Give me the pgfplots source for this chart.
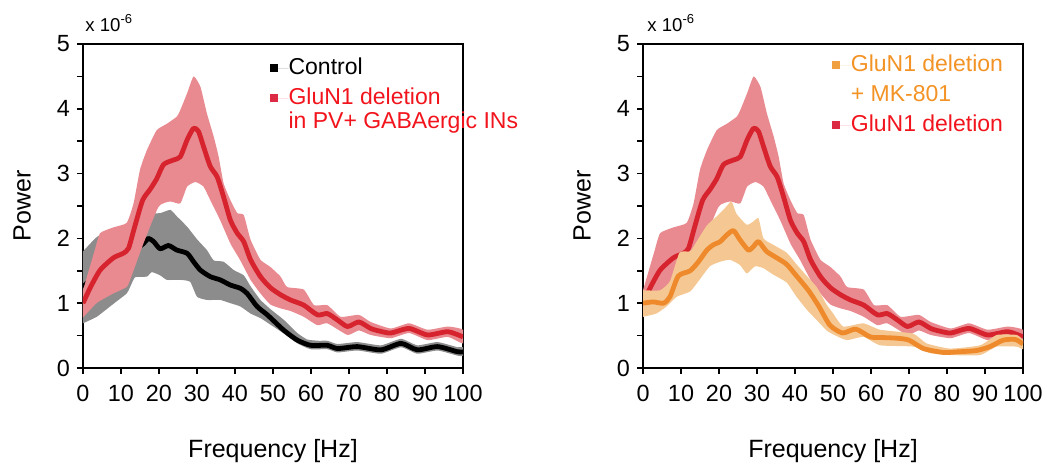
\documentclass[border=0pt]{standalone}
\usepackage{pgfplots}
\pgfplotsset{compat=1.18}
\usepackage{pgfplotstable}
\usepackage{fontspec}
\setmainfont{Liberation Sans}

\definecolor{gnred}{HTML}{D6232E}
\definecolor{gnband}{HTML}{E88A90}
\definecolor{ctlband}{HTML}{8C8C8C}
\definecolor{mkline}{HTML}{EE8A2C}
\definecolor{mkband}{HTML}{F5C893}
\definecolor{legred}{HTML}{F2141C}
\definecolor{legorange}{HTML}{F39325}
\definecolor{sqred}{HTML}{DC2A45}
\definecolor{sqorange}{HTML}{F0A040}

% GluN1 deletion, mean (same curve in both panels)
\pgfplotstableread{
f v
0 1.00
2 1.25
4.5 1.51
8 1.70
10.6 1.77
12 1.85
13.7 2.20
15.7 2.59
17.7 2.76
19.4 2.92
21.2 3.14
23.8 3.21
25.6 3.26
27.4 3.52
29.1 3.70
30.4 3.65
31.7 3.42
33.5 3.11
35.3 2.95
37 2.64
38.8 2.28
40.6 2.08
42.3 1.95
44.1 1.67
46.7 1.41
49.3 1.24
52 1.13
54.6 1.05
58.1 0.97
61.7 0.82
64.3 0.84
67 0.74
69.6 0.64
72.6 0.71
75.7 0.61
78 0.57
81 0.54
85.8 0.61
90.7 0.51
96 0.56
100 0.48
}\redmid
% GluN1 deletion, band outline: upper edge 0->100, lower edge 100->0
\pgfplotstableread{
f v
0 1.20
1.5 1.50
3 1.80
4.5 2.08
8 2.17
11.5 2.24
13.3 2.54
15 3.06
16.8 3.36
19.4 3.67
22.1 3.77
24.7 3.88
25.6 3.98
27.4 4.24
29.1 4.50
30.9 4.34
32.6 3.93
34.4 3.57
35.7 3.26
37 2.85
38.8 2.59
40.6 2.39
42.3 2.36
44.1 1.98
46.7 1.67
49.3 1.56
52 1.41
53.7 1.25
58.1 1.21
60.8 0.97
64.3 0.97
67.8 0.79
72.6 0.82
75.7 0.71
81 0.61
85.8 0.69
90.7 0.59
96 0.64
100 0.59
100 0.38
96 0.48
90.7 0.43
85.8 0.54
81 0.46
75.7 0.51
72.6 0.58
69.6 0.51
64.3 0.69
61.7 0.66
58.1 0.79
54.6 0.88
52 0.92
49.3 0.98
46.7 1.15
44.1 1.36
41.4 1.66
38.8 1.92
36.1 2.28
33.5 2.59
31.7 2.80
29.6 2.87
27.4 2.80
25.6 2.54
22.9 2.57
19.9 2.49
15.9 1.92
12.4 1.36
11.5 1.25
8 1.15
4 1.02
2.7 0.95
0 0.78
}\redband

% Control, mean
\pgfplotstableread{
f v
0 1.25
3 1.42
6 1.55
9 1.65
12 1.75
15.9 1.92
17.2 2.00
18.6 1.95
20.3 1.84
22.5 1.89
24.7 1.82
27.4 1.77
29.1 1.64
30.9 1.51
33.5 1.41
36.1 1.36
38.8 1.28
41.4 1.23
43.2 1.15
45.8 0.95
48.5 0.82
52.9 0.58
56.4 0.43
59.9 0.35
64.3 0.35
67 0.30
72.2 0.33
78.4 0.28
83.7 0.38
88 0.28
93.3 0.33
98.6 0.25
100 0.25
}\ctlmid
% Control, band outline
\pgfplotstableread{
f v
0 1.80
3.2 2.00
4.5 2.05
8 2.10
12 2.15
15 2.30
17 2.38
20.3 2.39
23 2.44
24.7 2.34
27.4 2.18
30.1 1.98
32.6 1.82
34.4 1.66
37 1.64
39.7 1.51
42.3 1.43
44.1 1.26
46.7 1.05
49.3 0.91
52.9 0.74
56.4 0.54
59 0.44
62 0.42
64.3 0.42
67 0.37
72.2 0.40
78.4 0.35
83.7 0.45
88 0.35
93.3 0.40
98.6 0.32
100 0.32
100 0.19
98.6 0.19
93.3 0.27
88 0.22
83.7 0.32
78.4 0.22
72.2 0.27
67 0.24
64.3 0.29
59.9 0.29
56.4 0.38
52.9 0.53
49.3 0.67
46.7 0.77
44.1 0.84
41.4 0.95
38.8 1.00
36.1 1.05
32.6 1.05
30 1.10
28.2 1.33
25.6 1.36
22.1 1.36
20.3 1.43
18.1 1.48
16.8 1.41
13.7 1.40
12.4 1.25
11.5 1.15
8 0.99
3.6 0.79
0 0.69
}\ctlband

% GluN1 deletion + MK-801, mean
\pgfplotstableread{
f v
0 1.00
2.7 1.02
5.4 1.00
7.1 1.10
9.3 1.42
12.4 1.50
14.6 1.64
16.8 1.82
18.5 1.90
20.3 1.95
22 2.05
23.8 2.12
25.5 1.98
27.7 1.82
29 1.87
30.4 1.95
32.5 1.80
35.2 1.70
37.8 1.60
40.4 1.42
43.5 1.20
46.3 0.95
49.2 0.66
52.5 0.54
56 0.60
59.8 0.48
63 0.47
66.8 0.46
70 0.43
73.8 0.30
79 0.24
83 0.25
87.8 0.27
91.3 0.33
94.8 0.43
98 0.44
100 0.37
}\mkmid
% GluN1 deletion + MK-801, band outline
\pgfplotstableread{
f v
0 1.20
4.5 1.20
7.1 1.34
9.6 1.78
12.4 1.80
14.1 1.95
16.8 2.20
19.4 2.34
21.6 2.47
23.3 2.57
24.6 2.38
27.3 2.21
29 2.26
30.4 2.31
31.7 2.00
34.3 1.90
37.8 1.78
40.4 1.60
43.1 1.42
45.7 1.25
48.3 0.98
49.8 0.86
52.7 0.64
58 0.69
62.4 0.59
71.1 0.53
74.6 0.38
80.8 0.30
88.7 0.35
93.1 0.51
98.3 0.51
100 0.43
100 0.29
98.3 0.33
93.1 0.33
88.7 0.20
80.8 0.20
75.5 0.23
71.1 0.33
62.4 0.35
58 0.48
53.6 0.43
50 0.52
48.3 0.58
45.7 0.74
43.1 0.90
40.4 1.10
37.8 1.32
34.3 1.44
31.7 1.54
29.5 1.57
27.3 1.46
25.5 1.59
22.9 1.67
20.3 1.64
17.6 1.57
14.6 1.34
12.4 1.18
8.9 1.10
6.2 0.95
3.5 0.84
0 0.79
}\mkband

\pgfplotsset{
  psd/.style={
    scale only axis, width=190pt, height=162pt,
    xmin=0, xmax=100, ymin=0, ymax=5,
    xtick={0,10,...,100}, ytick={0,1,2,3,4,5},
    minor ytick={0.5,1.5,2.5,3.5,4.5},
    tick align=outside, tick pos=left,
    major tick length=3pt, minor tick length=3pt,
    tick style={black, line width=0.8pt},
    axis line style={line width=0.9pt},
    /pgf/number format/assume math mode=true,
    ticklabel style={font=\fontsize{11.7}{13}\selectfont},
    xticklabel style={yshift=-2pt},
    xlabel={Frequency [Hz]}, ylabel={Power},
    label style={font=\fontsize{12.5}{14}\selectfont},
    xlabel style={at={(axis description cs:0.5,-0.256)}, anchor=center},
    ylabel style={at={(axis description cs:-0.16,0.5)}, anchor=center},
    legend cell align=left,
    legend style={draw=none, fill=none, inner sep=0pt, outer sep=0pt,
      anchor=north west, row sep=3pt,
      font=\fontsize{11.5}{13}\selectfont,
      nodes={inner sep=0pt, text height=9pt, text depth=3pt}},
  },
  band/.style={draw=none, smooth, tension=0.3, forget plot},
  curve/.style={line width=2.4pt, line join=round, smooth, tension=0.4, forget plot},
  legsq/.style={legend image code/.code={
      \path[draw=none] (0pt,0pt) -- (9.5pt,0pt);
      \fill[##1, draw=none] (0pt,-2pt) rectangle (4pt,2pt);}},
}

\begin{document}
\begin{tikzpicture}
\begin{axis}[psd, name=L, legend style={at={(0.491,0.962)}}]
\addlegendimage{legsq, fill=black}
\addlegendentry{Control}
\addlegendimage{legsq, fill=sqred}
\addlegendentry{\textcolor{legred}{GluN1 deletion}}
\addlegendimage{empty legend}
\addlegendentry[text height=6pt]{\textcolor{legred}{in PV+ GABAergic INs}}

\addplot[band, fill=ctlband] table {\ctlband} -- cycle;
\addplot[curve, black] table {\ctlmid};
\addplot[band, fill=gnband] table {\redband} -- cycle;
\addplot[curve, gnred] table {\redmid};
\end{axis}
\node[anchor=base west, inner sep=0pt, font=\fontsize{9.3}{10}\selectfont]
  at ([xshift=1pt,yshift=6.5pt]L.north west) {x 10\textsuperscript{-6}};

\begin{axis}[psd, name=R, at={(280pt,0pt)}, anchor=south west,
  legend style={at={(0.497,0.972)}}]
\addlegendimage{legsq, fill=sqorange}
\addlegendentry{\textcolor{legorange}{GluN1 deletion}}
\addlegendimage{empty legend}
\addlegendentry{\textcolor{legorange}{+ MK-801}}
\addlegendimage{legsq, fill=sqred}
\addlegendentry{\textcolor{legred}{GluN1 deletion}}

\addplot[band, fill=gnband] table {\redband} -- cycle;
\addplot[curve, gnred] table {\redmid};
\addplot[band, fill=mkband] table {\mkband} -- cycle;
\addplot[curve, mkline] table {\mkmid};
\end{axis}
\node[anchor=base west, inner sep=0pt, font=\fontsize{9.3}{10}\selectfont]
  at ([xshift=2pt,yshift=6.5pt]R.north west) {x 10\textsuperscript{-6}};

\path (-41.5pt,-46.5pt) rectangle (488pt,184pt);
\end{tikzpicture}
\end{document}
